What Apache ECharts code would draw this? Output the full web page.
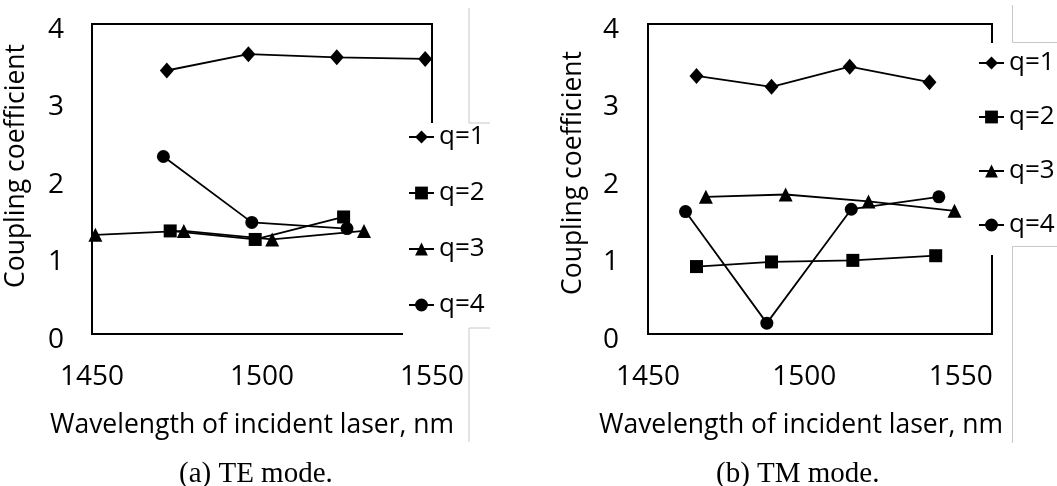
<!DOCTYPE html>
<html>
<head>
<meta charset="utf-8">
<script src="https://cdn.jsdelivr.net/npm/echarts@6/dist/echarts.min.js"></script>
<style>
  html, body { margin: 0; padding: 0; background: #fff; }
  #chart { width: 1057px; height: 486px; }
</style>
</head>
<body>
<div id="chart"></div>
<script>
// (a) TE mode
const teQ1X = [1472, 1496, 1522, 1548];
const teQ1Y = [3.40, 3.61, 3.57, 3.55];
const teQ2X = [1473, 1498, 1524];
const teQ2Y = [1.33, 1.22, 1.51];
const teQ3X = [1451, 1477, 1503, 1530];
const teQ3Y = [1.28, 1.33, 1.22, 1.33];
const teQ4X = [1471, 1497, 1525];
const teQ4Y = [2.29, 1.44, 1.36];

// (b) TM mode
const tmQ1X = [1465.5, 1489.5, 1514.5, 1540];
const tmQ1Y = [3.33, 3.19, 3.45, 3.25];
const tmQ2X = [1465.5, 1489.5, 1515.5, 1542];
const tmQ2Y = [0.87, 0.93, 0.95, 1.01];
const tmQ3X = [1468.5, 1494, 1520.5, 1548];
const tmQ3Y = [1.77, 1.80, 1.71, 1.59];
const tmQ4X = [1462, 1488, 1515, 1543];
const tmQ4Y = [1.58, 0.14, 1.61, 1.77];

const seriesNames = ['q=1', 'q=2', 'q=3', 'q=4'];
const captions = ['(a) TE mode.', '(b) TM mode.'];
const xTitle = 'Wavelength of incident laser, nm';
const yTitle = 'Coupling coefficient';

const symbols = ['diamond', 'rect', 'triangle', 'circle'];
const symbolSizes = [[14, 16], 13, 14, 13];
const FONT = 'Open Sans';

function pairs(xs, ys) {
  return xs.map((x, i) => [x, ys[i]]);
}

const panels = [
  [pairs(teQ1X, teQ1Y), pairs(teQ2X, teQ2Y), pairs(teQ3X, teQ3Y), pairs(teQ4X, teQ4Y)],
  [pairs(tmQ1X, tmQ1Y), pairs(tmQ2X, tmQ2Y), pairs(tmQ3X, tmQ3Y), pairs(tmQ4X, tmQ4Y)]
];

const series = [];
panels.forEach((panel, p) => {
  panel.forEach((data, i) => {
    series.push({
      name: seriesNames[i],
      type: 'line',
      xAxisIndex: p,
      yAxisIndex: p,
      data: data,
      symbol: symbols[i],
      symbolSize: symbolSizes[i],
      showAllSymbol: true,
      color: '#000',
      lineStyle: { color: '#000', width: 1.8 },
      itemStyle: { color: '#000' },
      emphasis: { disabled: true },
      animation: false
    });
  });
});

function xAxis(idx, max, padRight) {
  return {
    gridIndex: idx,
    type: 'value',
    min: 1450,
    max: max,
    interval: 50,
    name: xTitle,
    nameLocation: 'middle',
    nameGap: 78,
    nameTextStyle: { fontFamily: FONT, fontSize: 26.5, color: '#000', padding: [0, padRight, 0, 0] },
    axisLine: { show: false },
    axisTick: { show: false },
    splitLine: { show: false },
    axisLabel: {
      fontFamily: FONT, fontSize: 28, color: '#000', margin: 29, lineHeight: 28,
      formatter: v => (v % 50 === 0 ? String(v) : '')
    }
  };
}

function yAxis(idx, gap, margin, padLeft) {
  return {
    gridIndex: idx,
    type: 'value',
    min: 0,
    max: 4,
    interval: 1,
    name: yTitle,
    nameLocation: 'middle',
    nameGap: gap,
    nameTextStyle: { fontFamily: FONT, fontSize: 26.5, color: '#000', padding: [0, 0, 0, padLeft] },
    axisLine: { show: false },
    axisTick: { show: false },
    splitLine: { show: false },
    axisLabel: { fontFamily: FONT, fontSize: 28, color: '#000', margin: margin, verticalAlign: 'top', lineHeight: 12 }
  };
}

function legend(left, top, padTop, gap, itemWidth) {
  return {
    orient: 'vertical',
    left: left,
    top: top,
    data: seriesNames,
    itemWidth: itemWidth,
    itemHeight: 16,
    itemGap: gap,
    padding: [padTop, 6, 17, 5],
    backgroundColor: '#fff',
    selectedMode: false,
    textStyle: { fontFamily: FONT, fontSize: 26, color: '#000', lineHeight: 24 }
  };
}

const gray = { stroke: '#c8c8c8', lineWidth: 1 };
function grayLine(x1, y1, x2, y2) {
  return { type: 'line', z: 100, silent: true, shape: { x1, y1, x2, y2 }, style: gray };
}

const chart = echarts.init(document.getElementById('chart'), null, { renderer: 'canvas' });
chart.setOption({
  animation: false,
  backgroundColor: '#fff',
  grid: [
    { left: 92, top: 24, width: 340, height: 310, show: true, borderColor: '#000', borderWidth: 2, backgroundColor: 'transparent', outerBoundsMode: 'none' },
    { left: 648, top: 24, width: 344, height: 310, show: true, borderColor: '#000', borderWidth: 2, backgroundColor: 'transparent', outerBoundsMode: 'none' }
  ],
  xAxis: [xAxis(0, 1550, 20), xAxis(1, 1560, 38)],
  yAxis: [yAxis(0, 62, 28, 26), yAxis(1, 61, 29, 12)],
  legend: [
    legend(403, 123, 1, 30, 25),
    legend(973, 43, 7, 28, 25)
  ],
  series: series,
  graphic: [
    { type: 'text', left: 256 - 77, top: 460, style: { text: captions[0], font: '29px "Liberation Serif"', fill: '#000' } },
    { type: 'text', left: 798 - 82, top: 460, style: { text: captions[1], font: '29px "Liberation Serif"', fill: '#000' } },
    grayLine(469, 8, 469, 123), grayLine(469, 123, 490, 123),
    grayLine(469, 328, 490, 328), grayLine(469, 328, 469, 442),
    grayLine(1012.5, 5, 1012.5, 42.5), grayLine(1012.5, 42.5, 1057, 42.5),
    grayLine(1012.5, 246.5, 1057, 246.5), grayLine(1012.5, 246.5, 1012.5, 443)
  ]
});
</script>
</body>
</html>
